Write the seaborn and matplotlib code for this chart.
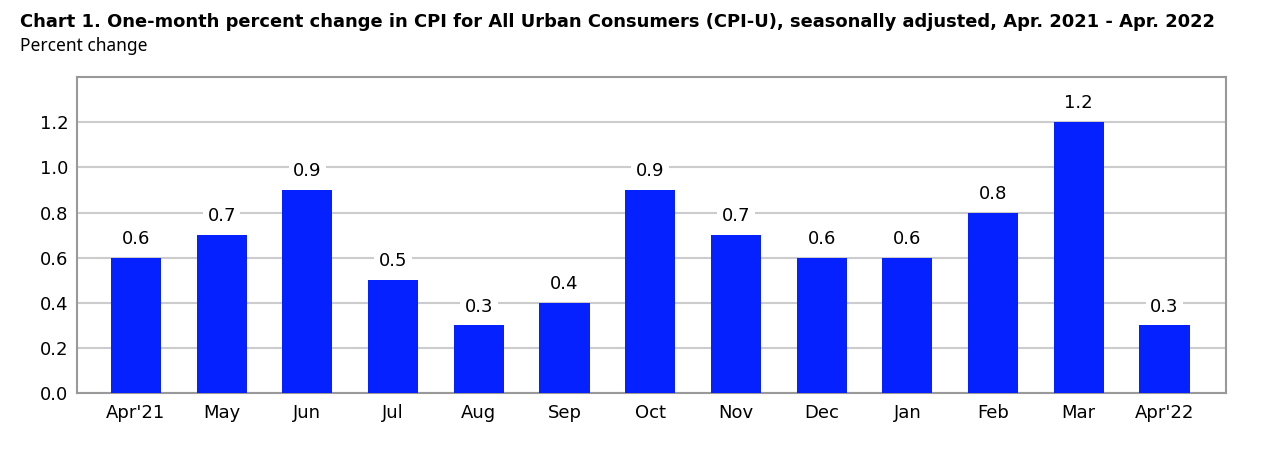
import matplotlib

matplotlib.use("Agg")
import matplotlib.pyplot as plt
import pandas as pd
import seaborn as sns

months = ["Apr'21", "May", "Jun", "Jul", "Aug", "Sep", "Oct",
          "Nov", "Dec", "Jan", "Feb", "Mar", "Apr'22"]
pct_change = [0.6, 0.7, 0.9, 0.5, 0.3, 0.4, 0.9, 0.7, 0.6, 0.6, 0.8, 1.2, 0.3]
y_ticks = [0.0, 0.2, 0.4, 0.6, 0.8, 1.0, 1.2]

df = pd.DataFrame({"month": months, "pct": pct_change})

sns.set_style("white")
plt.rcParams["font.family"] = ["DejaVu Sans"]
plt.rcParams["text.color"] = "black"
plt.rcParams["xtick.color"] = "black"
plt.rcParams["ytick.color"] = "black"

fig = plt.figure(figsize=(12.8, 4.73), dpi=100)
ax = fig.add_axes([0.060, 0.169, 0.898, 0.668])

sns.barplot(data=df, x="month", y="pct", color="#0521ff", saturation=1,
            width=0.584, edgecolor="none", linewidth=0, ax=ax, zorder=3)

ax.set_ylim(0, 1.4)
ax.set_xlim(-0.69, 12.72)
ax.set_yticks(y_ticks)
ax.set_yticklabels([f"{v:.1f}" for v in y_ticks])
ax.grid(axis="y", color="#cccccc", linewidth=1.5, zorder=0)
ax.set_axisbelow(True)
ax.set_xlabel("")
ax.set_ylabel("")
ax.tick_params(axis="x", length=2, color="#aaaaaa", labelsize=13, pad=6,
               labelcolor="black")
ax.tick_params(axis="y", length=0, labelsize=13, pad=6, labelcolor="black")
for s in ax.spines.values():
    s.set_color("#999999")
    s.set_linewidth(1.5)

for i, v in enumerate(pct_change):
    ax.annotate(f"{v:.1f}", (i, v), xytext=(0, 13.5), textcoords="offset points",
                ha="center", va="center", fontsize=13, color="black", zorder=5,
                bbox=dict(boxstyle="square,pad=0.25", fc="white", ec="none"))

fig.text(0.016, 0.942, "Chart 1. One-month percent change in CPI for All Urban Consumers "
         "(CPI-U), seasonally adjusted, Apr. 2021 - Apr. 2022",
         fontsize=12.9, fontweight="bold", ha="left", va="baseline")
fig.text(0.016, 0.892, "Percent change", fontsize=12.5, family="Noto Sans",
         ha="left", va="baseline")

fig.savefig("out.png", dpi=100)
